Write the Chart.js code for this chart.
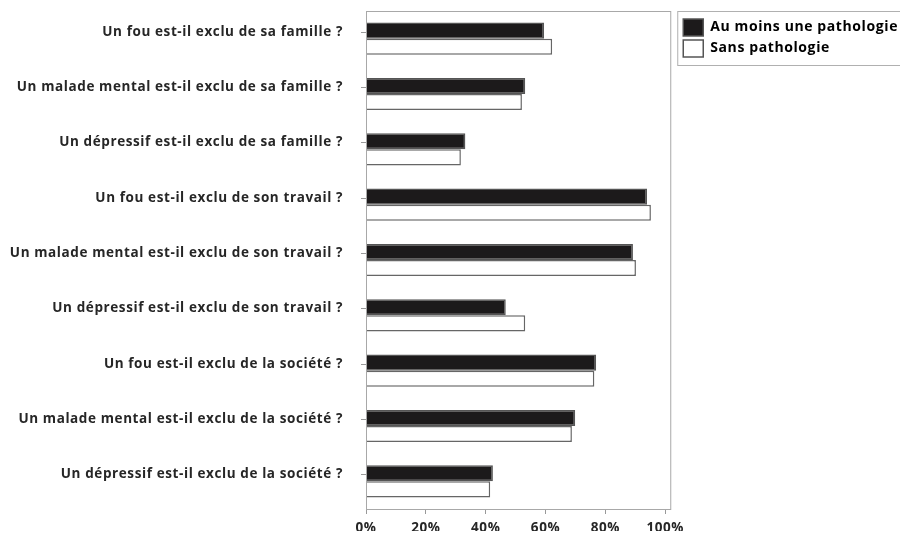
<!DOCTYPE html>
<html>
<head>
<meta charset="utf-8">
<script src="https://cdn.jsdelivr.net/npm/chart.js@4"></script>
<style>
  html, body { margin: 0; padding: 0; background: #fff; }
  #wrap { width: 900px; height: 533px; }
</style>
</head>
<body>
<div id="wrap"><canvas id="chart"></canvas></div>
<script>
/* data */
const QUESTIONS = [
  'Un fou est-il exclu de sa famille ?',
  'Un malade mental est-il exclu de sa famille ?',
  'Un dépressif est-il exclu de sa famille ?',
  'Un fou est-il exclu de son travail ?',
  'Un malade mental est-il exclu de son travail ?',
  'Un dépressif est-il exclu de son travail ?',
  'Un fou est-il exclu de la société ?',
  'Un malade mental est-il exclu de la société ?',
  'Un dépressif est-il exclu de la société ?'
];
const SERIES_NAMES = ['Au moins une pathologie', 'Sans pathologie'];
const WITH_PATHO = [59.5, 53.2, 33.2, 93.9, 89.2, 46.7, 76.9, 69.9, 42.4];
const WITHOUT_PATHO = [62.2, 52.1, 31.7, 95.2, 90.2, 53.2, 76.3, 68.8, 41.5];
const X_TICKS = [0, 20, 40, 60, 80, 100];

const FONT = "'Open Sans', 'DejaVu Sans', sans-serif";
const TEXT = '#262626';

// the scanned original has widely spaced letters
const spacing = {
  id: 'spacing',
  beforeUpdate(chart) { chart.ctx.letterSpacing = '0.6px'; },
  beforeDraw(chart) { chart.ctx.letterSpacing = '0.6px'; }
};

// legend sits a little inside its frame, not flush against the plot
const legendNudge = {
  id: 'legendNudge',
  afterLayout(chart) {
    const lg = chart.legend;
    lg.left += 8; lg.right += 8;
    lg.top += 4; lg.bottom += 4;
  }
};

// frame around the plot, category tick marks, box around the legend
const frames = {
  id: 'frames',
  afterDraw(chart) {
    const { ctx, chartArea: a } = chart;
    ctx.save();
    ctx.strokeStyle = '#a8a8a8';
    ctx.lineWidth = 1;
    ctx.strokeRect(a.left + 0.5, a.top + 0.5, a.right - a.left - 1, a.bottom - a.top);

    // short ticks on the category axis, level with the first bar of each group
    const y = chart.scales.y;
    ctx.strokeStyle = '#999';
    y.ticks.forEach((t, i) => {
      const py = Math.round(y.getPixelForTick(i) - 7) + 0.5;
      ctx.beginPath();
      ctx.moveTo(a.left - 5, py);
      ctx.lineTo(a.left, py);
      ctx.stroke();
    });

    ctx.strokeStyle = '#b0b0b0';
    ctx.strokeRect(a.right + 6.5, a.top + 0.5, 300, 54);
    ctx.restore();
  }
};

document.addEventListener('DOMContentLoaded', () => {
  const ctx = document.getElementById('chart').getContext('2d');
  new Chart(ctx, {
    type: 'bar',
    data: {
      labels: QUESTIONS,
      datasets: [
        {
          label: SERIES_NAMES[0],
          data: WITH_PATHO,
          backgroundColor: '#1c1a1b',
          borderColor: '#555',
          borderWidth: 1.5
        },
        {
          label: SERIES_NAMES[1],
          data: WITHOUT_PATHO,
          backgroundColor: '#ffffff',
          borderColor: '#666',
          borderWidth: 1.5
        }
      ]
    },
    options: {
      indexAxis: 'y',
      responsive: true,
      maintainAspectRatio: false,
      animation: false,
      categoryPercentage: 0.58,
      barPercentage: 1,
      layout: { padding: { top: 11, right: 5, bottom: 2, left: 0 } },
      scales: {
        x: {
          min: 0,
          max: 102,
          afterBuildTicks: axis => { axis.ticks = X_TICKS.map(v => ({ value: v })); },
          afterFit: axis => { axis.height = 22; },
          ticks: {
            callback: v => v + '%',
            font: { family: FONT, size: 13.5, weight: 'bold' },
            color: TEXT,
            padding: 6,
            maxRotation: 0
          },
          grid: { drawOnChartArea: false, drawTicks: true, tickLength: 5, color: '#999' },
          border: { display: false }
        },
        y: {
          afterFit: axis => {
            axis.width = 366;
            axis.paddingTop = 0;
            axis.paddingBottom = 0;
          },
          ticks: {
            font: { family: FONT, size: 13.5, weight: 'bold' },
            color: TEXT,
            padding: 23,
            labelOffset: -7,
            autoSkip: false
          },
          grid: { drawOnChartArea: false, drawTicks: false },
          border: { display: false }
        }
      },
      plugins: {
        legend: {
          position: 'right',
          align: 'start',
          labels: {
            boxWidth: 20,
            boxHeight: 17,
            padding: 4,
            color: TEXT,
            font: { family: FONT, size: 14, weight: 'bold' },
            generateLabels: chart => chart.data.datasets.map((d, i) => ({
              text: d.label,
              fillStyle: d.backgroundColor,
              strokeStyle: '#555',
              lineWidth: 1.5,
              datasetIndex: i,
              hidden: false
            }))
          }
        },
        tooltip: { enabled: false }
      }
    },
    plugins: [spacing, legendNudge, frames]
  });
});
</script>
</body>
</html>
